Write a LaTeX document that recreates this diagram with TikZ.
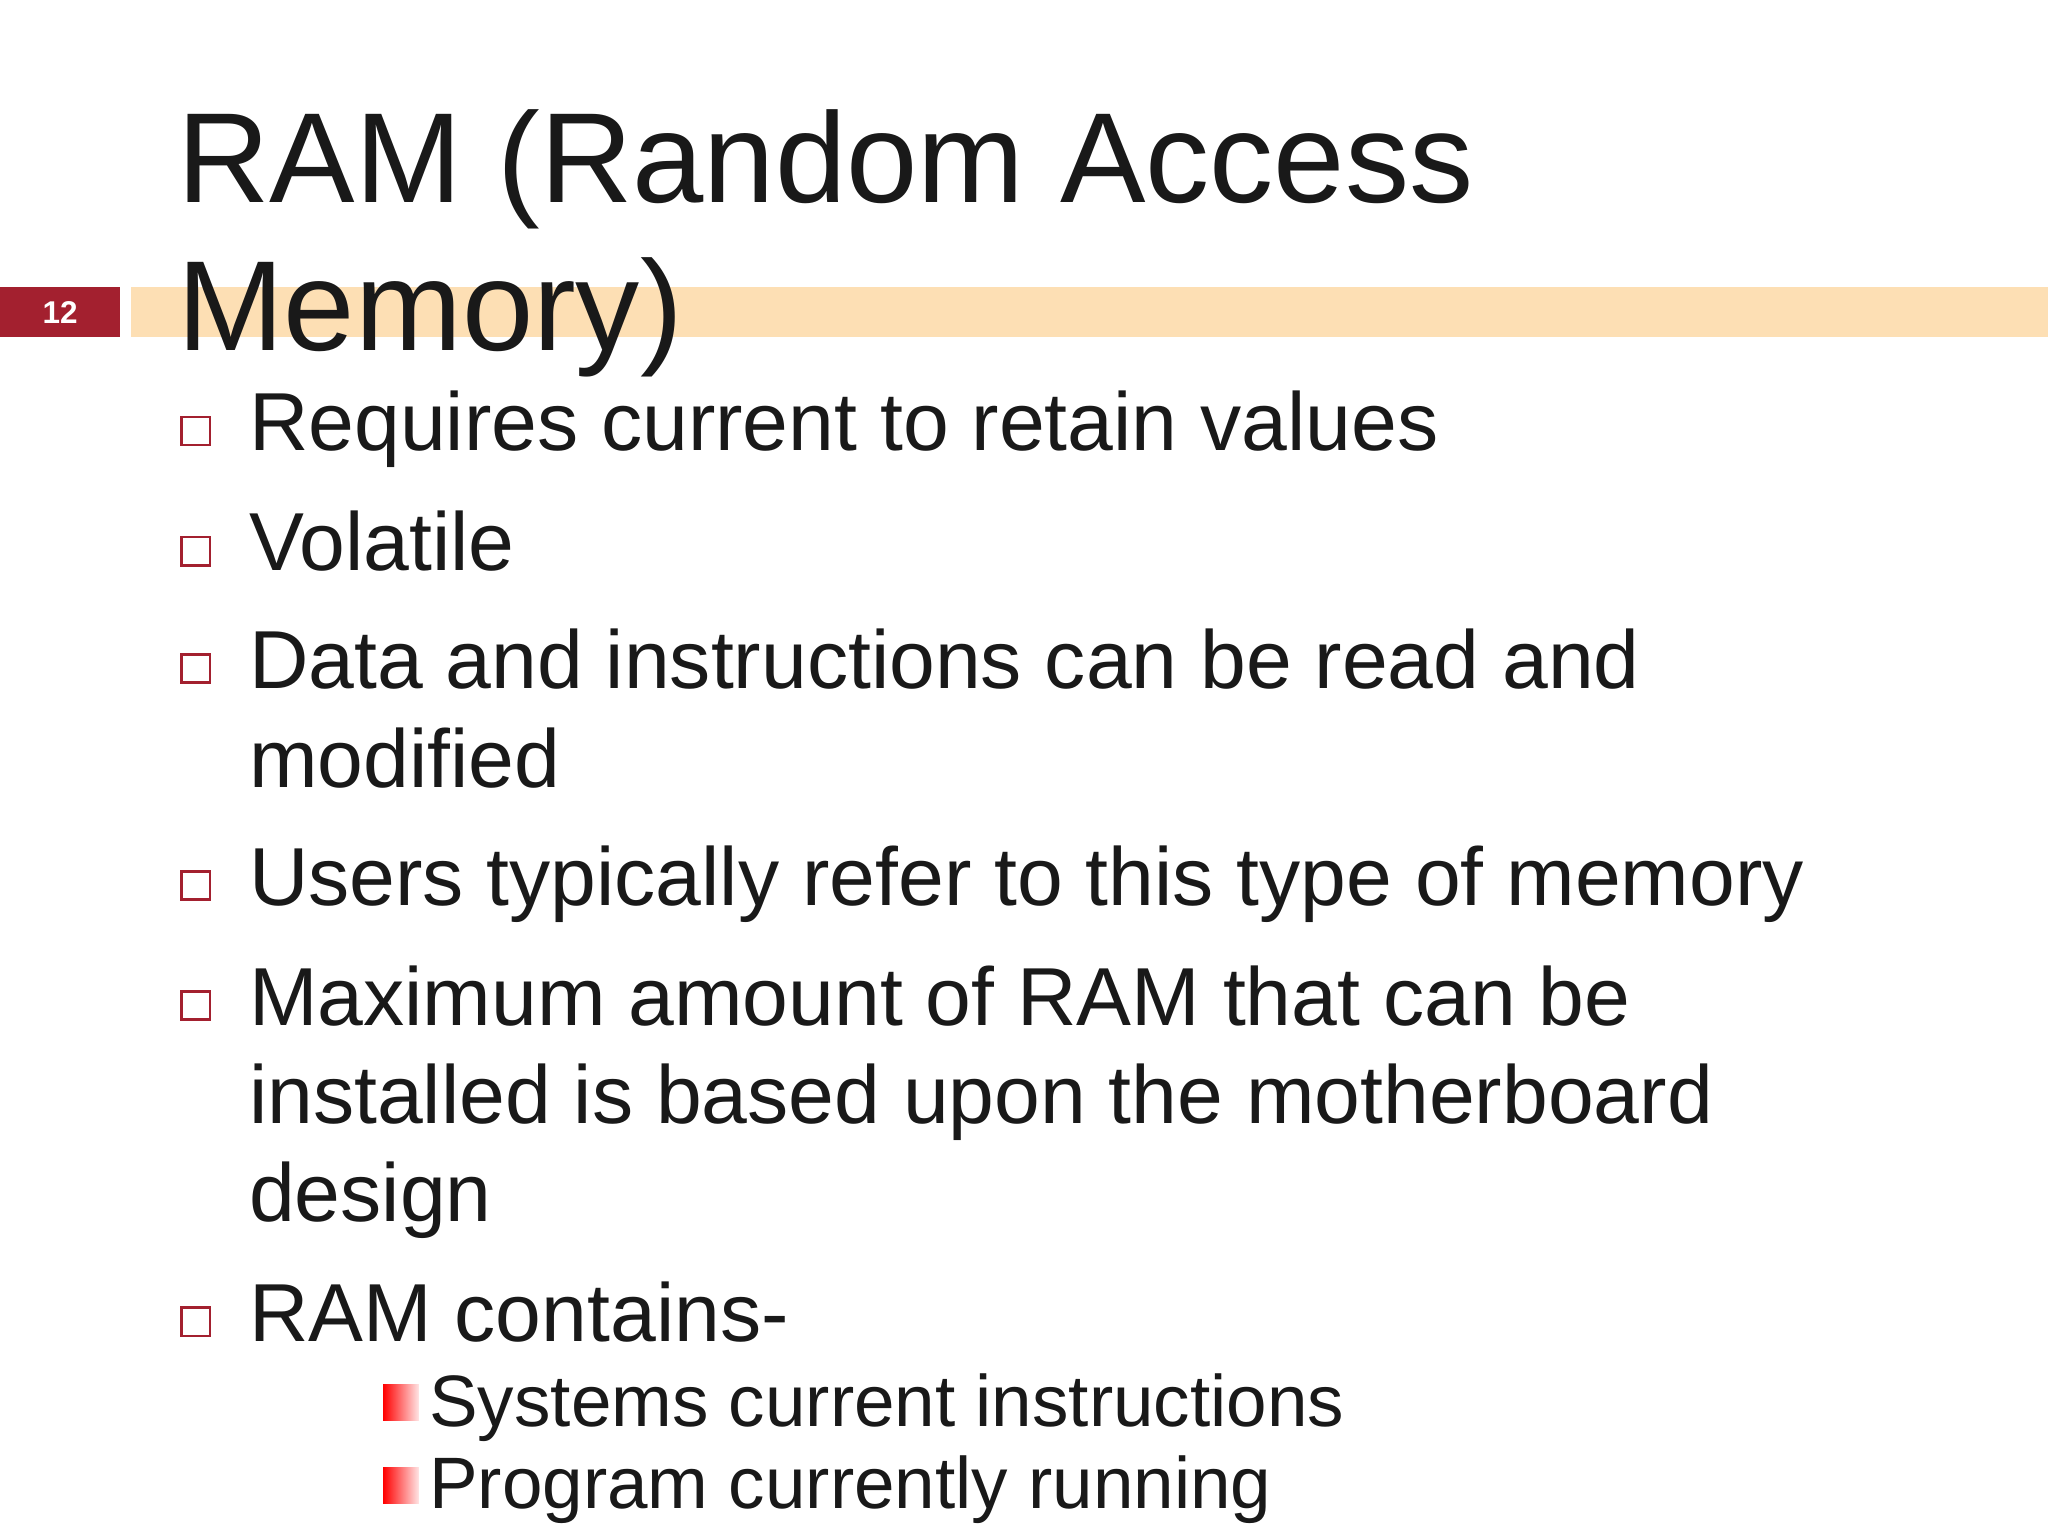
\documentclass[tikz,border=0pt]{standalone}
\usepackage{fontspec}
\setmainfont{Liberation Sans}
\definecolor{barorange}{HTML}{FDDFB4}
\definecolor{slidered}{HTML}{A3202F}
\tikzset{
  titletext/.style={anchor=base west, inner sep=0pt, font=\fontsize{28.5}{33}\selectfont, text=black!90},
  itemtext/.style={anchor=base west, inner sep=0pt, font=\fontsize{18.3}{22}\selectfont, text=black!90},
  subtext/.style={anchor=base west, inner sep=0pt, font=\fontsize{16.2}{19}\selectfont, text=black!90},
  boxmark/.style={draw=slidered, line width=0.6pt, fill=white, minimum size=0.22cm, inner sep=0pt},
  fademark/.style={left color=red, right color=red!10, minimum width=0.28cm, minimum height=0.28cm, inner sep=0pt}
}
\begin{document}
\begin{tikzpicture}[x=0.010204cm, y=-0.010204cm]
  \useasboundingbox (0,0) rectangle (1568,1176);
  % header bar
  \fill[barorange] (100,220) rectangle (1568,258);
  \node[fill=slidered, minimum width=0.94cm, minimum height=0.39cm, inner sep=0pt, text=white, font=\fontsize{7}{8}\selectfont\bfseries] (num) at (46,239) {12};
  % title
  \node[titletext] (t1) at (135,155) {RAM (Random Access};
  \node[titletext] (t2) at (135,268) {Memory)};
  % bullets
  \foreach \y/\txt [count=\i] in {345/Requires current to retain values, 437/Volatile, 527/Data and instructions can be read and, 693/Users typically refer to this type of memory, 785/Maximum amount of RAM that can be, 1027/RAM contains-}{
    \node[boxmark] (m\i) at (150,\y-15) {};
    \node[itemtext] (b\i) at (190,\y) {\txt};
  }
  \node[itemtext] (c3) at (190,603) {modified};
  \node[itemtext] (c5a) at (190,860) {installed is based upon the motherboard};
  \node[itemtext] (c5b) at (190,935) {design};
  % sub bullets
  \node[fademark] (s1m) at (307,1074) {};
  \node[subtext] (s1) at (328,1092) {Systems current instructions};
  \node[fademark] (s2m) at (307,1137) {};
  \node[subtext] (s2) at (328,1155) {Program currently running};
\end{tikzpicture}
\end{document}
